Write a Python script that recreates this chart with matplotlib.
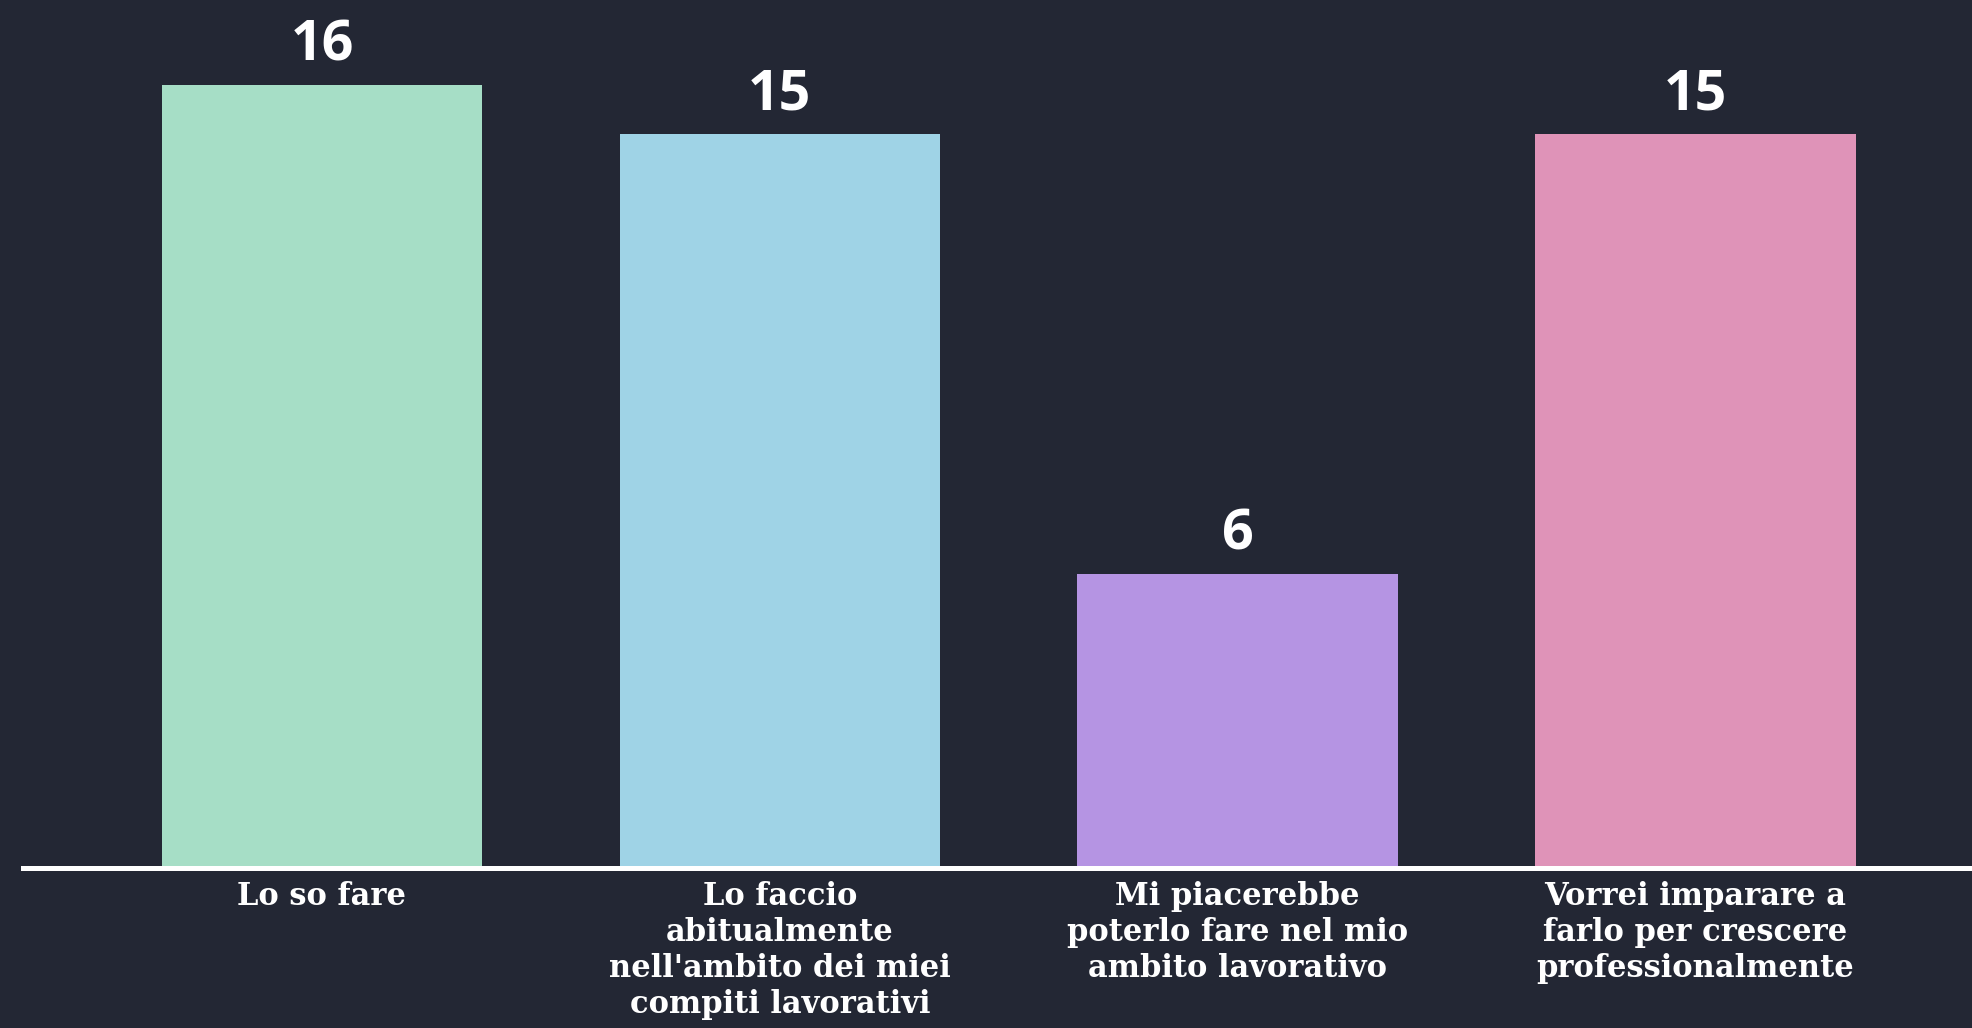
import matplotlib.pyplot as plt

categories = ['Lo so fare',
              'Lo faccio\nabitualmente\nnell\'ambito dei miei\ncompiti lavorativi',
              'Mi piacerebbe\npoterlo fare nel mio\nambito lavorativo',
              'Vorrei imparare a\nfarlo per crescere\nprofessionalmente']
values = [16, 15, 6, 15]
colors = ['#a6dec6', '#9fd3e6', '#b594e3', '#df93b8']
bg = '#232734'

fig = plt.figure(figsize=(19.72, 10.28), dpi=100, facecolor=bg)
ax = fig.add_axes([0.01166, 0.1556, 0.9883, 0.833])
ax.set_facecolor(bg)

x = range(len(values))
bars = ax.bar(x, values, width=0.7, color=colors, zorder=2)
ax.set_xlim(-0.653, 3.604)
ax.set_ylim(0, 17.5)

for b, v in zip(bars, values):
    ax.annotate(str(v), (b.get_x() + b.get_width() / 2, v), xytext=(0, 18),
                textcoords='offset points', ha='center', va='baseline',
                color='white', fontsize=40, fontweight='bold', family='Open Sans')

for s in ['top', 'left', 'right']:
    ax.spines[s].set_visible(False)
ax.spines['bottom'].set_color('white')
ax.spines['bottom'].set_linewidth(3.6)
ax.spines['bottom'].set_zorder(3)
ax.set_yticks([])
ax.set_xticks(list(x))
ax.set_xticklabels(categories, color='white', fontsize=22, fontweight='bold',
                   family='DejaVu Serif', linespacing=1.22, va='top')
ax.tick_params(axis='x', length=0, pad=9)

fig.savefig('out.png', dpi=100, facecolor=bg)
